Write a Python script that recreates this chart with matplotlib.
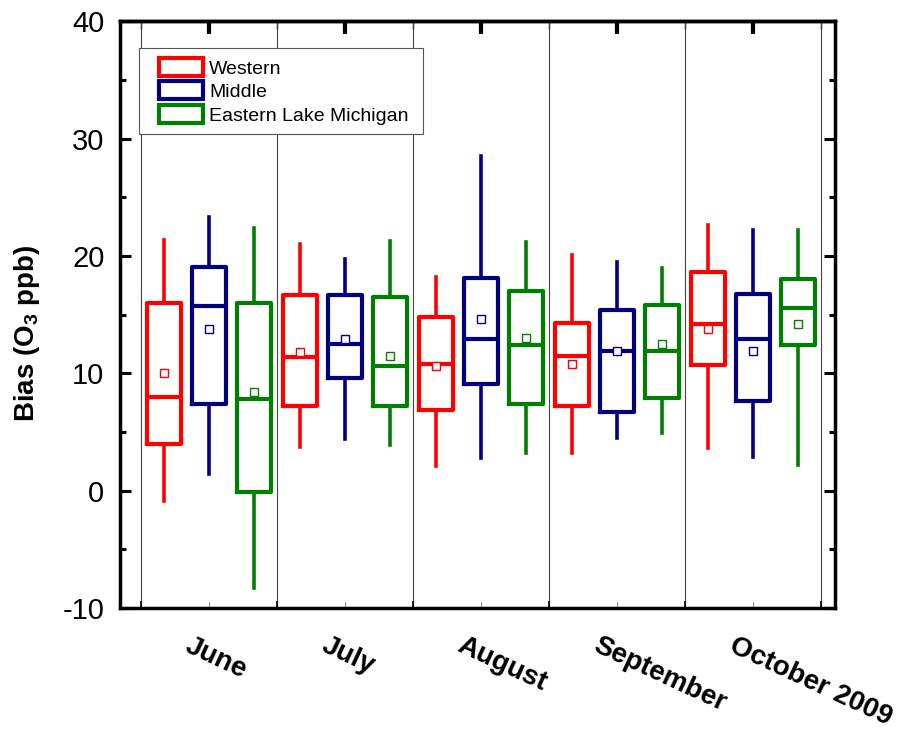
import matplotlib
matplotlib.use('Agg')
import matplotlib.pyplot as plt
from matplotlib.patches import Patch, Rectangle
from matplotlib.legend_handler import HandlerPatch
from matplotlib.ticker import MultipleLocator

plt.rcParams['font.family'] = ['Liberation Sans', 'DejaVu Sans']
plt.rcParams['axes.unicode_minus'] = False

months = ['June', 'July', 'August', 'September', 'October 2009']
regions = ['Western', 'Middle', 'Eastern Lake Michigan']
colors = ['#FF0000', '#000080', '#008000']

# box statistics per region (rows) and month (columns), O3 bias in ppb
whis_lo = [[-0.9, 3.7, 2.1, 3.2, 3.6],
           [1.45, 4.4, 2.8, 4.5, 2.9],
           [-8.3, 3.9, 3.2, 4.9, 2.2]]
q1 = [[4.0, 7.2, 6.9, 7.2, 10.75],
      [7.4, 9.6, 9.1, 6.7, 7.6],
      [-0.1, 7.2, 7.4, 7.9, 12.4]]
med = [[8.0, 11.35, 10.8, 11.5, 14.2],
       [15.7, 12.5, 12.9, 11.9, 12.9],
       [7.85, 10.6, 12.4, 11.9, 15.6]]
q3 = [[16.0, 16.7, 14.8, 14.3, 18.6],
      [19.1, 16.7, 18.1, 15.4, 16.8],
      [16.0, 16.5, 17.0, 15.8, 18.0]]
whis_hi = [[21.4, 21.0, 18.2, 20.1, 22.6],
           [23.3, 19.7, 28.5, 19.5, 22.2],
           [22.4, 21.3, 21.2, 19.0, 22.2]]
means = [[10.0, 11.8, 10.6, 10.8, 13.8],
         [13.8, 12.9, 14.6, 11.9, 11.9],
         [8.45, 11.5, 13.0, 12.5, 14.2]]

centers = list(range(1, len(months) + 1))
bounds = [c - 0.5 for c in centers] + [centers[-1] + 0.5]
offsets = [-0.33, 0.0, 0.33]

fig = plt.figure(figsize=(9.14, 7.3), dpi=100)
ax = fig.add_axes([0.131, 0.167, 0.7826, 0.804])

for b in bounds:
    ax.axvline(b, color='#444444', lw=0.8, zorder=1)

for r, c in enumerate(colors):
    stats = []
    for m in range(len(months)):
        stats.append(dict(whislo=whis_lo[r][m], q1=q1[r][m], med=med[r][m],
                          q3=q3[r][m], whishi=whis_hi[r][m], mean=means[r][m],
                          fliers=[]))
    pos = [x + offsets[r] for x in centers]
    ax.bxp(stats, positions=pos, widths=0.25, showcaps=False, showmeans=True,
           showfliers=False, manage_ticks=False,
           boxprops=dict(color=c, lw=3),
           whiskerprops=dict(color=c, lw=2.6),
           medianprops=dict(color=c, lw=3),
           meanprops=dict(marker='s', linestyle='none', markerfacecolor='white',
                          markeredgecolor=c, markersize=6, markeredgewidth=1))

ax.set_xlim(0.346, 5.603)
ax.set_ylim(-10, 40)

for s in ax.spines.values():
    s.set_linewidth(2.5)

ax.yaxis.set_major_locator(MultipleLocator(10))
ax.yaxis.set_minor_locator(MultipleLocator(5))
ax.tick_params(axis='y', which='both', direction='in', left=True, right=True,
               width=2.2, labelsize=21, pad=11)
ax.tick_params(axis='y', which='major', length=8)
ax.tick_params(axis='y', which='minor', length=4)

ax.set_xticks(centers)
ax.set_xticks(bounds, minor=True)
ax.set_xticklabels([])
ax.tick_params(axis='x', which='major', direction='in', length=4, width=0.8,
               color='#888888', top=False)
ax.tick_params(axis='x', which='minor', direction='in', length=5, width=1.2,
               top=False)

top = ax.secondary_xaxis('top')
top.set_xticks(centers)
top.set_xticks(bounds, minor=True)
top.set_xticklabels([])
top.tick_params(axis='x', which='major', direction='in', length=9, width=3)
top.tick_params(axis='x', which='minor', direction='in', length=6, width=1)
top.spines['top'].set_linewidth(2.5)

for x, name in zip(centers, months):
    ax.text(x - 0.12, -0.042, name, transform=ax.get_xaxis_transform(),
            rotation=-25, rotation_mode='anchor', ha='left', va='top',
            fontsize=20, fontweight='bold')

ax.set_ylabel('Bias (O$_\\mathregular{3}$ ppb)', fontsize=20, fontweight='bold')
ax.yaxis.set_label_coords(-0.108, 0.469)


def inset_box(legend, orig_handle, xdescent, ydescent, width, height, fontsize):
    # leave some room on the left of each legend swatch
    shift = 0.18 * width
    return Rectangle((-xdescent + shift, -ydescent), width - shift, height)


handles = [Patch(facecolor='none', edgecolor=c, lw=3) for c in colors]
ax.legend(handles, regions, loc='upper left',
          bbox_to_anchor=(0.027, 0.854, 0.397, 0.1), mode='expand',
          borderaxespad=0, fontsize=14, fancybox=False, framealpha=1,
          edgecolor='#555555', handlelength=2.8, handleheight=1.05,
          labelspacing=0.2, handletextpad=0.3, borderpad=0.5,
          handler_map={Patch: HandlerPatch(patch_func=inset_box)})
ax.get_legend().get_frame().set_linewidth(0.8)

fig.savefig('out.png', dpi=100)
